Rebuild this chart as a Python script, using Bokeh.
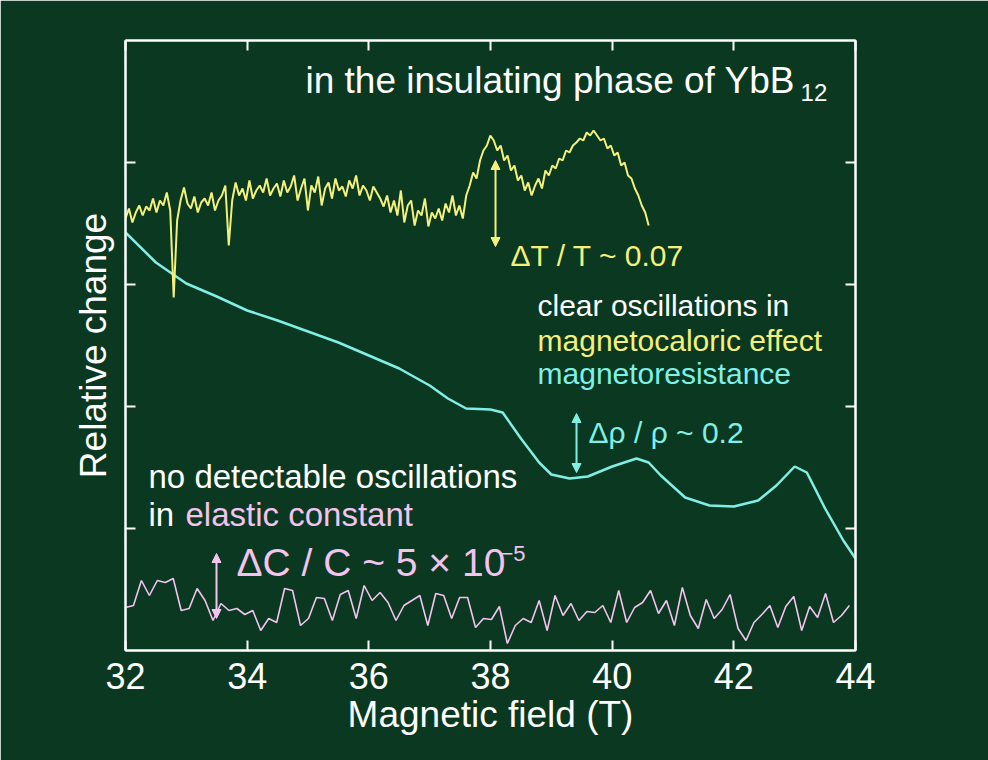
import numpy as np
from bokeh.plotting import figure
from bokeh.models import Range1d, LinearAxis, FixedTicker, Arrow, NormalHead, Label
from bokeh.embed import file_html
from bokeh.resources import INLINE

BG = "#0a3820"; YEL = "#f4f07c"; CYA = "#80f0e6"; PNK = "#f2c4ee"; WH = "white"

def py(p):  # pixel row of reference -> data unit
    return (650 - np.asarray(p, float)) / 122.0

def px(p):
    return 32 + (p - 125) / 60.83

# magnetoresistance (cyan)
mr_x = [32.0, 32.5, 33.0, 33.5, 34.0, 34.5, 35.0, 35.5, 36.0, 36.5, 37.0, 37.3, 37.6, 38.0, 38.2,
        38.5, 38.8, 39.0, 39.3, 39.6, 40.0, 40.4, 40.6, 40.8, 41.2, 41.6, 42.0, 42.4, 42.7, 43.0,
        43.2, 43.5, 43.8, 44.0]
mr_y = py([232, 262, 283, 296, 310, 320, 331, 342, 355, 368, 385, 398, 408, 409, 412,
           438, 462, 474, 478, 476, 466, 458, 462, 475, 497, 505, 506, 500, 485, 466,
           472, 508, 540, 558])

# magnetocaloric (yellow), 32 -> 40.6
mc_pix = [218, 208, 222, 212, 205, 215, 206, 210, 198, 212, 200, 205, 192, 210, 297, 220, 200, 187,
          203, 208, 196, 212, 202, 198, 205, 192, 210, 200, 195, 185, 245, 200, 182, 195, 188, 200,
          180, 198, 190, 185, 192, 178, 195, 188, 183, 196, 180, 192, 186, 175, 200, 188, 178, 210,
          185, 192, 176, 205, 188, 182, 198, 178, 190, 186, 196, 180, 188, 175, 195, 185, 190, 200,
          186, 192, 198, 206, 195, 212, 200, 215, 190, 222, 205, 200, 225, 210, 215, 198, 226, 212,
          218, 208, 220, 203, 212, 195,
          215, 205, 218, 195,
          185, 172, 178, 160, 150, 145, 135,
          140, 150, 145, 160, 155, 170, 165, 180, 175, 190, 182, 195,
          185, 178, 188, 170, 175, 165, 168, 158, 160, 150, 152, 145, 142, 138, 140, 132, 135, 130,
          135, 140, 138, 148, 145, 155, 152, 165, 162, 175, 178, 188, 195, 205, 212, 225]
mc_x = np.linspace(32.0, 40.6, len(mc_pix))
mc_y = py(mc_pix)

# elastic constant (pink)
ec_pix = [607, 605, 580, 595, 580, 582, 578, 610, 608, 588, 600, 620, 603, 610, 608, 614, 610, 630,
          618, 622, 588, 590, 625, 618, 597, 598, 620, 594, 590, 618, 585, 600, 592, 602, 620, 605,
          600, 595, 625, 593, 595, 618, 597, 597, 627, 618, 619, 606, 643, 625, 618, 622, 600, 630,
          595, 615, 603, 620, 611, 612, 605, 622, 590, 622, 607, 602, 590, 613, 600, 625, 587, 615,
          628, 599, 618, 609, 594, 628, 640, 622, 614, 605, 627, 606, 596, 630, 606, 617, 593, 622,
          615, 605]
ec_x = np.linspace(32.0, 43.9, len(ec_pix))
ec_y = py(ec_pix)

x_ticks = [32, 34, 36, 38, 40, 42, 44]
y_ticks = [1, 2, 3, 4]

p = figure(width=988, height=760, output_backend="svg", toolbar_location=None,
           x_range=Range1d(32, 44), y_range=Range1d(0, 5),
           background_fill_color=BG, border_fill_color=BG,
           min_border_left=125, min_border_right=133, min_border_top=40, min_border_bottom=110)
p.grid.visible = False
p.outline_line_color = WH
p.outline_line_width = 2

for ax in [p.xaxis[0], p.yaxis[0]]:
    ax.axis_line_color = WH
    ax.axis_line_width = 2
    ax.major_tick_line_color = WH
    ax.major_tick_line_width = 2
    ax.major_tick_in = 10
    ax.major_tick_out = 0
    ax.minor_tick_line_color = None
    ax.major_label_text_color = WH
    ax.major_label_text_font = "Liberation Sans"
    ax.major_label_text_font_size = "36px"
    ax.axis_label_text_color = WH
    ax.axis_label_text_font = "Liberation Sans"
    ax.axis_label_text_font_size = "37px"
    ax.axis_label_text_font_style = "normal"
p.xaxis[0].ticker = FixedTicker(ticks=x_ticks)
p.xaxis[0].axis_label = "Magnetic field (T)"
p.xaxis[0].axis_label_standoff = 2
p.xaxis[0].major_label_standoff = 12
p.yaxis[0].ticker = FixedTicker(ticks=y_ticks)
p.yaxis[0].major_label_text_font_size = "0px"
p.yaxis[0].axis_label = "Relative change"
p.yaxis[0].axis_label_standoff = 12

for side, tk in [("above", x_ticks), ("right", y_ticks)]:
    a = LinearAxis(ticker=FixedTicker(ticks=tk), major_label_text_font_size="0px",
                   axis_line_color=WH, axis_line_width=2, major_tick_line_color=WH,
                   major_tick_line_width=2, major_tick_in=10, major_tick_out=0,
                   minor_tick_line_color=None)
    p.add_layout(a, side)

p.line(mr_x, mr_y, line_color=CYA, line_width=2.5)
p.line(mc_x, mc_y, line_color=YEL, line_width=2)
p.line(ec_x, ec_y, line_color=PNK, line_width=1.6)

def arrow(x, p1, p2, col):
    p.add_layout(Arrow(start=NormalHead(size=9, fill_color=col, line_color=col),
                       end=NormalHead(size=9, fill_color=col, line_color=col),
                       x_start=x, y_start=float(py(p1)), x_end=x, y_end=float(py(p2)),
                       line_color=col, line_width=2))

arrow(px(495), 160, 246, YEL)
arrow(px(576), 413, 472, CYA)
arrow(px(216), 553, 618, PNK)

def lab(xp, yp, t, col, size=26):
    p.add_layout(Label(x=px(xp), y=float(py(yp)), text=t, text_color=col,
                       text_font="Liberation Sans", text_font_size=f"{size}px",
                       text_baseline="middle"))

lab(305, 80, "in the insulating phase of YbB", WH, 37)
lab(800, 92, "12", WH, 24)
lab(510, 255, "ΔT / T ~ 0.07", YEL, 30)
lab(537, 305, "clear oscillations in", WH, 30)
lab(537, 340, "magnetocaloric effect", YEL, 30)
lab(537, 373, "magnetoresistance", CYA, 30)
lab(588, 432, "Δρ / ρ ~ 0.2", CYA, 30)
lab(148, 476, "no detectable oscillations", WH, 33)
lab(148, 514, "in", WH, 33)
lab(185, 514, "elastic constant", PNK, 33)
lab(236, 562, "ΔC / C ~ 5 × 10", PNK, 39)
lab(500, 553, "−5", PNK, 22)

open("out.html", "w").write(file_html(p, INLINE))
